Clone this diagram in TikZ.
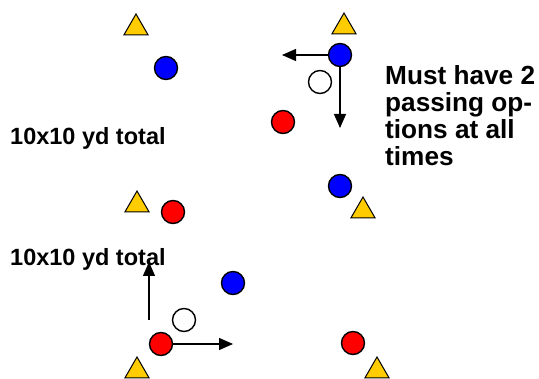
\documentclass[tikz,border=0pt]{standalone}
\usepackage{fontspec}
\setmainfont{Liberation Sans}
\usetikzlibrary{shapes.geometric,arrows.meta}
\definecolor{conegold}{RGB}{255,204,0}

\begin{document}
\begin{tikzpicture}[x=1pt, y=-1pt,
    player/.style ={circle, draw=black, line width=1.4pt,
      minimum size=23pt, inner sep=0pt},
    blue_player/.style ={player, fill=blue},
    red_player/.style ={player, fill=red},
    ball/.style ={player, fill=white},
    cone/.style ={regular polygon, regular polygon sides=3, draw=black,
      line width=1pt, fill=conegold, minimum size=28pt, inner sep=0pt},
    label_text/.style ={font=\bfseries\fontsize{23.5}{27}\selectfont,
      inner sep=0pt, align=left},
    rule_text/.style ={font=\bfseries\fontsize{26.2}{27.2}\selectfont,
      inner sep=0pt, align=left},
      line/.style ={draw, line width=1.3pt, -{Triangle[length=14pt,width=12pt]}}]

    \useasboundingbox (0,0) rectangle (539,379);

    % Place nodes
    % top grid
    \node [cone] (coneA) at (136,28) {};
    \node [cone] (coneB) at (344,27) {};
    \node [cone] (coneC) at (363,211) {};
    \node [blue_player] (blue1) at (166,68) {};
    \node [blue_player] (blue2) at (340,55) {};
    \node [blue_player] (blue3) at (340,186) {};
    \node [ball] (ball1) at (320,82) {};
    \node [red_player] (red1) at (283,122) {};

    % bottom grid
    \node [cone] (coneD) at (137,205) {};
    \node [cone] (coneE) at (137,371) {};
    \node [cone] (coneF) at (377,371) {};
    \node [red_player] (red2) at (173,212) {};
    \node [blue_player] (blue4) at (233,283) {};
    \node [ball] (ball2) at (184,320) {};
    \node [red_player] (red3) at (161,344) {};
    \node [red_player] (red4) at (353,343) {};

    % texts
    \node [label_text, anchor=base west] (sizeTop) at (10,145) {10x10 yd total};
    \node [label_text, anchor=base west] (sizeBottom) at (10,266) {10x10 yd total};
    \node [rule_text, anchor=north west] (rule) at (385,65) {%
      Must have 2\\
      passing op-\\
      tions at all\\
      times};

    % free ends of the runs
    \coordinate (blue2Left) at (282,55);
    \coordinate (blue2Down) at (340,128);
    \coordinate (runStart) at (149,320);
    \coordinate (runEnd) at (149,262);
    \coordinate (red3Right) at (233,344);

    \begin{scope}[every path/.style=line]
    \path (blue2) -- (blue2Left);
    \path (blue2) -- (blue2Down);
    \path (runStart) -- (runEnd);
    \path (red3) -- (red3Right);
    \end{scope}

\end{tikzpicture}
\end{document}
